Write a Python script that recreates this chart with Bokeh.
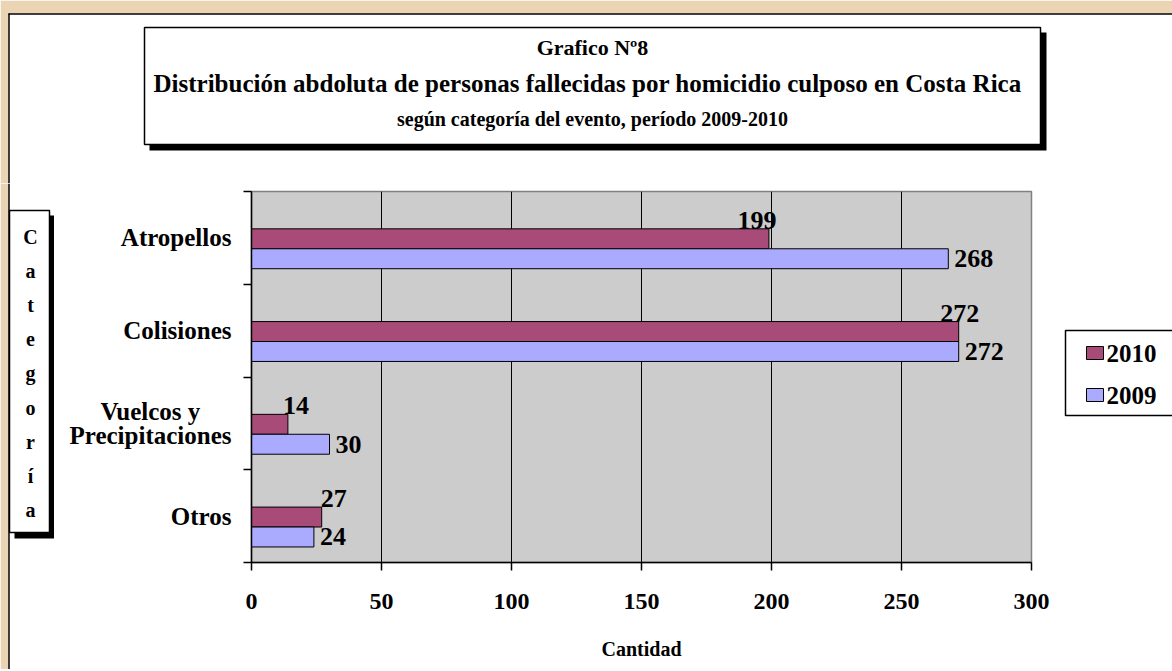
from bokeh.plotting import figure
from bokeh.layouts import column, row
from bokeh.models import Range1d, FixedTicker, LabelSet, ColumnDataSource
from bokeh.core.properties import value
from bokeh.embed import file_html
from bokeh.resources import INLINE

# ---------------- data ----------------
categories = ["Atropellos", "Colisiones", "Vuelcos y Precipitaciones", "Otros"]
category_labels = ["Atropellos", "Colisiones", "Vuelcos y\nPrecipitaciones", "Otros"]
values_2010 = [199, 272, 14, 27]
values_2009 = [268, 272, 30, 24]
series_names = ["2010", "2009"]
x_ticks = [0, 50, 100, 150, 200, 250, 300]
title_lines = ["Grafico Nº8",
               "Distribución abdoluta de personas fallecidas por homicidio culposo en Costa Rica",
               "según categoría del evento, período 2009-2010"]
x_title = "Cantidad"
y_title = "Categoría"

# ---------------- style ----------------
FONT = "Liberation Serif"
C2010 = "#A84B78"
C2009 = "#AAAAFF"
series_colors = [C2010, C2009]
PLOT_BG = "#CCCCCC"
TAN = "#EBD4B4"
label_dx_2010 = [-12, 1, 8, 12]    # pixel nudges of the 2010 value labels

TOTAL_W, TOTAL_H = 1172, 669
TOP_H = 183                        # height of the title strip
LOW_H = TOTAL_H - TOP_H
L_W = 54                           # width of the y-title strip
R_X = 1050                         # page x where the legend strip starts
FL, FT, FR, FB = 251, 191, 1031, 562   # frame edges (page px)


def deco_fig(w, h):
    f = figure(width=w, height=h, output_backend="svg", toolbar_location=None,
               x_range=Range1d(0, w), y_range=Range1d(h, 0),
               x_axis_location=None, y_axis_location=None, min_border=0,
               frame_align=False)
    f.grid.visible = False
    f.outline_line_color = None
    f.background_fill_color = "white"
    f.border_fill_color = "white"
    return f


def txt(f, x, y, s, size, align="center", baseline="middle", **kw):
    f.text(x=[x], y=[y], text=[s], text_align=align, text_baseline=baseline,
           text_font=value(FONT), text_font_style="bold", text_font_size=size,
           text_color="black", **kw)


# ---------------- title strip ----------------
T = deco_fig(TOTAL_W, TOP_H)
T.quad(left=[0], right=[TOTAL_W], top=[0], bottom=[TOP_H], fill_color=TAN, line_color=None)
T.quad(left=[8], right=[TOTAL_W], top=[13], bottom=[TOP_H], fill_color="white", line_color=None)
T.segment(x0=[8.5, 8], y0=[13, 13.5], x1=[8.5, TOTAL_W], y1=[TOP_H, 13.5],
          line_color="black", line_width=1.5)
T.quad(left=[149], right=[1046], top=[32], bottom=[150], fill_color="black", line_color=None)
T.quad(left=[144], right=[1040], top=[27], bottom=[144], fill_color="white",
       line_color="black", line_width=1.5)
txt(T, 592, 47, title_lines[0], "22px")
txt(T, 153, 83, title_lines[1], "25px", align="left")
txt(T, 592, 118, title_lines[2], "20px")

# ---------------- y-title strip ----------------
L = deco_fig(L_W, LOW_H)
L.quad(left=[0], right=[8], top=[0], bottom=[LOW_H], fill_color=TAN, line_color=None)
L.segment(x0=[8.5], y0=[0], x1=[8.5], y1=[LOW_H], line_color="black", line_width=1.5)
L.quad(left=[14], right=[54], top=[215 - TOP_H], bottom=[538 - TOP_H],
       fill_color="black", line_color=None)
L.quad(left=[9], right=[49], top=[210 - TOP_H], bottom=[532 - TOP_H],
       fill_color="white", line_color="black", line_width=1.5)
txt(L, 30, 373 - TOP_H, "\n".join(y_title), "20px", text_line_height=1.55)

# ---------------- main chart ----------------
M_W = R_X - L_W
p = figure(width=M_W, height=LOW_H, output_backend="svg", toolbar_location=None,
           x_range=Range1d(0, 300), y_range=Range1d(0, len(categories)),
           min_border_left=FL - L_W, min_border_top=FT - TOP_H,
           min_border_right=R_X - FR, min_border_bottom=TOTAL_H - FB,
           frame_align=False)
p.background_fill_color = PLOT_BG
p.border_fill_color = "white"
p.outline_line_color = "#808080"
p.outline_line_width = 1.5

n = len(categories)
centers = [n - i - 0.5 for i in range(n)]
BAR_H = 0.215
y2010 = [c - 0.01 for c in centers]
y2009 = [c - 0.01 - BAR_H for c in centers]

src = ColumnDataSource(dict(cat=categories, y10=y2010, y09=y2009,
                            v10=values_2010, v09=values_2009,
                            t10=[str(v) for v in values_2010],
                            t09=[str(v) for v in values_2009],
                            top10=[y + BAR_H / 2 for y in y2010],
                            dx10=label_dx_2010))

xt = FixedTicker(ticks=x_ticks)
p.xgrid.ticker = xt
p.xgrid.grid_line_color = "black"
p.xgrid.grid_line_width = 1
p.ygrid.visible = False

r10 = p.hbar(y="y10", left=0, right="v10", height=BAR_H, source=src,
             fill_color=C2010, line_color="black", line_width=1)
r09 = p.hbar(y="y09", left=0, right="v09", height=BAR_H, source=src,
             fill_color=C2009, line_color="black", line_width=1)

xa = p.xaxis[0]
xa.ticker = xt
xa.axis_line_color = "black"
xa.axis_line_width = 1.5
xa.major_tick_line_color = "black"
xa.major_tick_line_width = 1.5
xa.major_tick_out = 8
xa.major_tick_in = 0
xa.minor_tick_out = 0
xa.minor_tick_in = 0
xa.major_label_text_font = FONT
xa.major_label_text_font_style = "bold"
xa.major_label_text_font_size = "24px"
xa.major_label_text_color = "black"
xa.major_label_standoff = 23
xa.axis_label = x_title
xa.axis_label_text_font = FONT
xa.axis_label_text_font_style = "bold"
xa.axis_label_text_font_size = "20px"
xa.axis_label_text_color = "black"
xa.axis_label_standoff = 26


def centred_lines(s):
    lines = s.split("\n")
    longest = max(len(t) for t in lines)
    out = []
    for t in lines:
        pad = round((longest - len(t)) * 0.45 / 2 / 0.25)
        out.append(t + "\u00a0" * pad)
    return "\n".join(out)


ya = p.yaxis[0]
ya.ticker = FixedTicker(ticks=centers, minor_ticks=list(range(n + 1)))
ya.major_label_overrides = {c: centred_lines(lab) for c, lab in zip(centers, category_labels)}
ya.axis_line_color = "black"
ya.axis_line_width = 1.5
ya.major_tick_out = 0
ya.major_tick_in = 0
ya.minor_tick_out = 8
ya.minor_tick_in = 0
ya.minor_tick_line_color = "black"
ya.minor_tick_line_width = 1.5
ya.major_label_text_font = FONT
ya.major_label_text_font_style = "bold"
ya.major_label_text_font_size = "25px"
ya.major_label_text_line_height = 0.9
ya.major_label_text_color = "black"
ya.major_label_standoff = 12

p.add_layout(LabelSet(x="v10", y="top10", text="t10", source=src, x_offset="dx10",
                      text_align="center", text_baseline="bottom",
                      text_font=value(FONT), text_font_style="bold",
                      text_font_size="26px", text_color="black"))
p.add_layout(LabelSet(x="v09", y="y09", text="t09", source=src, x_offset=6,
                      text_align="left", text_baseline="middle",
                      text_font=value(FONT), text_font_style="bold",
                      text_font_size="26px", text_color="black"))

# ---------------- legend strip ----------------
R = deco_fig(TOTAL_W - R_X, LOW_H)
R.quad(left=[1065 - R_X], right=[400], top=[330 - TOP_H], bottom=[415 - TOP_H],
       fill_color="white", line_color="black", line_width=1.5)
key_rows = [352.5 - TOP_H, 394.5 - TOP_H]
R.quad(left=[1086 - R_X] * 2, right=[1103 - R_X] * 2,
       top=[r - 6.5 for r in key_rows], bottom=[r + 6.5 for r in key_rows],
       fill_color=series_colors, line_color="black", line_width=1)
R.text(x=[1106 - R_X] * 2, y=key_rows, text=series_names, text_align="left",
       text_baseline="middle", text_font=value(FONT), text_font_style="bold",
       text_font_size="25px", text_color="black")

layout = column(T, row(L, p, R, spacing=0), spacing=0)
open("out.html", "w").write(file_html(layout, INLINE))
